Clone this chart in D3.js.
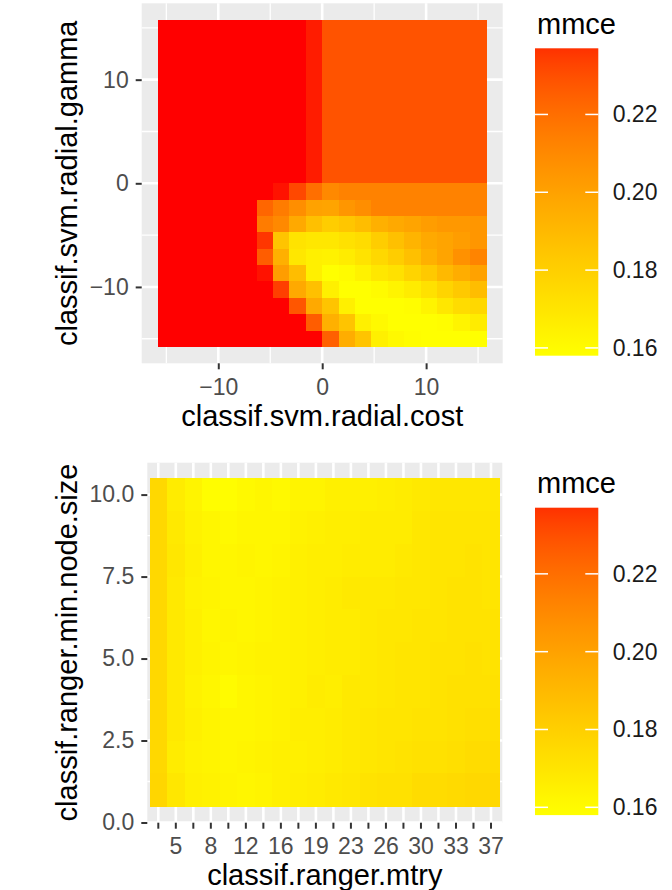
<!DOCTYPE html>
<html lang="en">
<head>
<meta charset="utf-8">
<title>mmce tuning heatmaps</title>
<script src="https://cdn.jsdelivr.net/npm/d3@7"></script>
<style>
	body { margin: 0; background: #fff; }
	text { font-family: "Liberation Sans", Arial, Helvetica, sans-serif; }
	.axis-title { font-size: 29px; fill: #000; }
	.legend-title { font-size: 29px; fill: #000; }
</style>
</head>
<body>
<script>

//Canvas
var w = 672;
var h = 890;

//SVM grid: cost along x, gamma along y (top row first)
var svmCost = [-15, -13.42, -11.84, -10.26, -8.68, -7.11, -5.53, -3.95, -2.37, -0.79,
               0.79, 2.37, 3.95, 5.53, 7.11, 8.68, 10.26, 11.84, 13.42, 15];
var svmGamma = [15, 13.42, 11.84, 10.26, 8.68, 7.11, 5.53, 3.95, 2.37, 0.79,
                -0.79, -2.37, -3.95, -5.53, -7.11, -8.68, -10.26, -11.84, -13.42, -15];
var svmMmce = [
	[.245,.245,.245,.245,.245,.245,.245,.245,.245,.240,.229,.229,.229,.229,.229,.229,.229,.229,.229,.229],
	[.245,.245,.245,.245,.245,.245,.245,.245,.245,.240,.229,.229,.229,.229,.229,.229,.229,.229,.229,.229],
	[.245,.245,.245,.245,.245,.245,.245,.245,.245,.240,.229,.229,.229,.229,.229,.229,.229,.229,.229,.229],
	[.245,.245,.245,.245,.245,.245,.245,.245,.245,.240,.229,.229,.229,.229,.229,.229,.229,.229,.229,.229],
	[.245,.245,.245,.245,.245,.245,.245,.245,.245,.240,.229,.229,.229,.229,.229,.229,.229,.229,.229,.229],
	[.245,.245,.245,.245,.245,.245,.245,.245,.245,.240,.229,.229,.229,.229,.229,.229,.229,.229,.229,.229],
	[.245,.245,.245,.245,.245,.245,.245,.245,.245,.240,.229,.229,.229,.229,.229,.229,.229,.229,.229,.229],
	[.245,.245,.245,.245,.245,.245,.245,.245,.245,.240,.229,.229,.229,.229,.229,.229,.229,.229,.229,.229],
	[.245,.245,.245,.245,.245,.245,.245,.245,.245,.240,.229,.229,.229,.229,.229,.229,.229,.229,.229,.229],
	[.245,.245,.245,.245,.245,.245,.245,.245,.245,.240,.229,.229,.229,.229,.229,.229,.229,.229,.229,.229],
	[.245,.245,.245,.245,.245,.245,.245,.241,.232,.220,.210,.213,.213,.213,.213,.213,.213,.213,.213,.213],
	[.245,.245,.245,.245,.245,.245,.223,.215,.208,.200,.199,.205,.208,.213,.213,.213,.213,.213,.213,.213],
	[.245,.245,.245,.245,.245,.245,.215,.210,.197,.187,.181,.184,.188,.194,.197,.199,.202,.204,.204,.205],
	[.245,.245,.245,.245,.245,.245,.236,.185,.171,.169,.169,.172,.174,.181,.187,.192,.197,.199,.202,.205],
	[.245,.245,.245,.245,.245,.245,.226,.194,.169,.165,.164,.167,.171,.176,.181,.187,.194,.199,.207,.212],
	[.245,.245,.245,.245,.245,.245,.241,.202,.188,.165,.158,.160,.164,.169,.172,.178,.183,.190,.195,.200],
	[.245,.245,.245,.245,.245,.245,.245,.234,.197,.187,.165,.158,.158,.160,.163,.167,.172,.178,.183,.188],
	[.245,.245,.245,.245,.245,.245,.245,.245,.228,.197,.185,.165,.158,.158,.158,.159,.163,.169,.174,.176],
	[.245,.245,.245,.245,.245,.245,.245,.245,.245,.226,.194,.185,.165,.161,.158,.158,.158,.159,.163,.167],
	[.245,.245,.245,.245,.245,.245,.245,.245,.245,.245,.225,.195,.185,.165,.161,.159,.158,.158,.158,.158]
];
var svmTicks = [-10, 0, 10];
var svmMinor = [-15, -5, 5, 15];

//Ranger grid: mtry levels along x, min.node.size along y (top row first)
var rangerMtry = [3, 5, 7, 8, 10, 12, 14, 16, 17, 19, 21, 23, 24, 26, 28, 30, 32, 33, 35, 37];
var rangerMtryLabels = [5, 8, 12, 16, 19, 23, 26, 30, 33, 37];
var rangerNodeSize = [10, 9, 8, 7, 6, 5, 4, 3, 2, 1];
var rangerMmce = [
	[.176,.167,.163,.159,.159,.161,.162,.161,.163,.163,.165,.165,.165,.166,.167,.168,.169,.169,.169,.169],
	[.176,.168,.164,.162,.161,.162,.162,.162,.164,.165,.166,.166,.167,.167,.167,.169,.170,.170,.170,.170],
	[.176,.169,.165,.162,.162,.163,.162,.163,.165,.166,.166,.167,.167,.167,.168,.169,.170,.170,.171,.170],
	[.176,.168,.164,.163,.162,.162,.163,.164,.165,.166,.167,.168,.168,.168,.169,.169,.170,.171,.171,.170],
	[.176,.168,.165,.162,.163,.162,.163,.164,.165,.166,.167,.167,.168,.169,.169,.170,.170,.171,.171,.171],
	[.176,.168,.165,.163,.162,.163,.164,.164,.165,.166,.167,.167,.168,.169,.170,.170,.171,.171,.172,.171],
	[.176,.168,.164,.162,.160,.162,.163,.164,.165,.167,.166,.168,.168,.169,.170,.170,.171,.172,.172,.172],
	[.176,.168,.165,.163,.162,.162,.163,.164,.166,.166,.167,.168,.169,.170,.170,.171,.171,.172,.173,.173],
	[.176,.167,.164,.163,.162,.163,.164,.165,.165,.166,.167,.168,.169,.170,.171,.172,.172,.173,.174,.174],
	[.177,.169,.165,.164,.163,.162,.163,.165,.166,.167,.168,.169,.171,.172,.172,.174,.174,.175,.176,.176]
];
var rangerYTicks = [0, 2.5, 5, 7.5, 10];
var rangerYMinor = [1.25, 3.75, 6.25, 8.75];

//Colour legend
var legendBreaks = [0.16, 0.18, 0.20, 0.22];
var legendRange = [0.158, 0.237];
var colorDomain = [0.158, 0.242];

var color = d3.scaleLinear()
	.domain(colorDomain)
	.range(["#ffff00", "#ff0000"])
	.interpolate(d3.interpolateLab)
	.clamp(true);

//Create SVG element
var svg = d3.select("body")
	.append("svg")
	.attr("width", w)
	.attr("height", h);

//Gradient for the colour bars
var grad = svg.append("defs")
	.append("linearGradient")
	.attr("id", "mmceGrad")
	.attr("x1", 0).attr("y1", 1)
	.attr("x2", 0).attr("y2", 0);

d3.range(0, 1.0001, 0.05).forEach(function(t) {
	grad.append("stop")
		.attr("offset", t)
		.attr("stop-color", color(legendRange[0] + t * (legendRange[1] - legendRange[0])));
});

function styleAxis(g) {
	g.attr("font-size", null).attr("font-family", null);
	g.select(".domain").remove();
	g.selectAll(".tick line").attr("stroke", "#333333").attr("stroke-width", 2);
	g.selectAll(".tick text").attr("fill", "#4d4d4d").style("font-size", "23px");
}

function drawGrid(g, xs, ys, x0, x1, y0, y1) {
	g.selectAll(null).data(xs).enter().append("line")
		.attr("x1", function(d) { return d.x; }).attr("x2", function(d) { return d.x; })
		.attr("y1", y0).attr("y2", y1)
		.attr("stroke", "#fff")
		.attr("stroke-width", function(d) { return d.major ? 2.6 : 1.3; });
	g.selectAll(null).data(ys).enter().append("line")
		.attr("y1", function(d) { return d.y; }).attr("y2", function(d) { return d.y; })
		.attr("x1", x0).attr("x2", x1)
		.attr("stroke", "#fff")
		.attr("stroke-width", function(d) { return d.major ? 2.6 : 1.3; });
}

function drawLegend(offY) {
	var lg = svg.append("g");
	var ly = d3.scaleLinear().domain(legendRange).range([offY + 355.7, offY + 48.3]);

	lg.append("text")
		.attr("class", "legend-title")
		.attr("x", 537)
		.attr("y", offY + 33.5)
		.text("mmce");

	lg.append("rect")
		.attr("x", 535)
		.attr("y", ly(legendRange[1]))
		.attr("width", 63.3)
		.attr("height", ly(legendRange[0]) - ly(legendRange[1]))
		.attr("fill", "url(#mmceGrad)");

	lg.selectAll(null).data(legendBreaks).enter().append("line")
		.attr("x1", 535).attr("x2", 548)
		.attr("y1", function(d) { return ly(d); }).attr("y2", function(d) { return ly(d); })
		.attr("stroke", "#fff").attr("stroke-width", 1.5);
	lg.selectAll(null).data(legendBreaks).enter().append("line")
		.attr("x1", 585.3).attr("x2", 598.3)
		.attr("y1", function(d) { return ly(d); }).attr("y2", function(d) { return ly(d); })
		.attr("stroke", "#fff").attr("stroke-width", 1.5);

	var ax = lg.append("g")
		.attr("transform", "translate(598.3,0)")
		.call(d3.axisRight(ly).tickValues(legendBreaks).tickSize(0).tickPadding(14.4)
			.tickFormat(d3.format(".2f")));
	ax.attr("font-size", null).attr("font-family", null);
	ax.select(".domain").remove();
	ax.selectAll("text").attr("fill", "#1a1a1a").style("font-size", "23px");
}

// ---------- Top: SVM ----------
var xSvm = d3.scaleLinear().domain([-17.37, 17.37]).range([141.7, 502.7]);
var ySvm = d3.scaleLinear().domain([-17.37, 17.37]).range([363.3, 3.3]);
var half = (svmCost[1] - svmCost[0]) / 2;

var svmPlot = svg.append("g");
svmPlot.append("rect")
	.attr("x", 141.7).attr("y", 3.3)
	.attr("width", 361).attr("height", 360)
	.attr("fill", "#ebebeb");

drawGrid(svmPlot,
	svmMinor.map(function(v) { return {x: xSvm(v), major: false}; })
		.concat(svmTicks.map(function(v) { return {x: xSvm(v), major: true}; })),
	svmMinor.map(function(v) { return {y: ySvm(v), major: false}; })
		.concat(svmTicks.map(function(v) { return {y: ySvm(v), major: true}; })),
	141.7, 502.7, 3.3, 363.3);

var svmCells = [];
svmGamma.forEach(function(g, i) {
	svmCost.forEach(function(c, j) {
		svmCells.push({cost: c, gamma: g, mmce: svmMmce[i][j]});
	});
});

svmPlot.append("g")
	.attr("shape-rendering", "crispEdges")
	.selectAll("rect")
	.data(svmCells)
	.enter()
	.append("rect")
	.attr("x", function(d) { return xSvm(d.cost - half); })
	.attr("y", function(d) { return ySvm(d.gamma + half); })
	.attr("width", function(d) { return xSvm(d.cost + half) - xSvm(d.cost - half) + 0.5; })
	.attr("height", function(d) { return ySvm(d.gamma - half) - ySvm(d.gamma + half) + 0.5; })
	.attr("fill", function(d) { return color(d.mmce); });

svmPlot.append("g")
	.attr("transform", "translate(0,363.3)")
	.call(d3.axisBottom(xSvm).tickValues(svmTicks).tickSize(6).tickPadding(9).tickFormat(d3.format("d")))
	.call(styleAxis);

svmPlot.append("g")
	.attr("transform", "translate(141.7,0)")
	.call(d3.axisLeft(ySvm).tickValues(svmTicks).tickSize(6).tickPadding(7).tickFormat(d3.format("d")))
	.call(styleAxis);

svmPlot.append("text")
	.attr("class", "axis-title")
	.attr("x", 322.2).attr("y", 426)
	.attr("text-anchor", "middle")
	.text("classif.svm.radial.cost");

svmPlot.append("text")
	.attr("class", "axis-title")
	.attr("transform", "translate(77,183.3) rotate(-90)")
	.attr("text-anchor", "middle")
	.text("classif.svm.radial.gamma");

drawLegend(0);

// ---------- Bottom: ranger ----------
var off = 459.4;
var xRanger = d3.scaleBand().domain(rangerMtry).range([147.8, 501.5]).paddingInner(0).paddingOuter(0.1);
var yRanger = d3.scaleLinear().domain([0, 11]).range([822.5, 461.8]);

var rangerPlot = svg.append("g");
rangerPlot.append("rect")
	.attr("x", 147.3).attr("y", 3.3 + off)
	.attr("width", 355).attr("height", 360)
	.attr("fill", "#ebebeb");

drawGrid(rangerPlot,
	rangerMtry.map(function(v) { return {x: xRanger(v) + xRanger.bandwidth() / 2, major: true}; }),
	rangerYMinor.map(function(v) { return {y: yRanger(v), major: false}; })
		.concat(rangerYTicks.map(function(v) { return {y: yRanger(v), major: true}; })),
	147.3, 502.3, 3.3 + off, 363.3 + off);

var rangerCells = [];
rangerNodeSize.forEach(function(n, i) {
	rangerMtry.forEach(function(m, j) {
		rangerCells.push({mtry: m, size: n, mmce: rangerMmce[i][j]});
	});
});

rangerPlot.append("g")
	.attr("shape-rendering", "crispEdges")
	.selectAll("rect")
	.data(rangerCells)
	.enter()
	.append("rect")
	.attr("x", function(d) { return xRanger(d.mtry); })
	.attr("y", function(d) { return yRanger(d.size + 0.5); })
	.attr("width", xRanger.bandwidth() + 0.5)
	.attr("height", function(d) { return yRanger(d.size - 0.5) - yRanger(d.size + 0.5) + 0.5; })
	.attr("fill", function(d) { return color(d.mmce); });

rangerPlot.append("g")
	.attr("transform", "translate(0," + (363.3 + off) + ")")
	.call(d3.axisBottom(xRanger).tickSize(6).tickPadding(8.5).tickFormat(function(d) {
		return rangerMtryLabels.indexOf(d) >= 0 ? d : "";
	}))
	.call(styleAxis);

rangerPlot.append("g")
	.attr("transform", "translate(147.3,0)")
	.call(d3.axisLeft(yRanger).tickValues(rangerYTicks).tickSize(6).tickPadding(7).tickFormat(d3.format(".1f")))
	.call(styleAxis);

rangerPlot.append("text")
	.attr("class", "axis-title")
	.attr("x", 324.8).attr("y", 885)
	.attr("text-anchor", "middle")
	.text("classif.ranger.mtry");

rangerPlot.append("text")
	.attr("class", "axis-title")
	.attr("transform", "translate(77,642.5) rotate(-90)")
	.attr("text-anchor", "middle")
	.text("classif.ranger.min.node.size");

drawLegend(off);

</script>
</body>
</html>
